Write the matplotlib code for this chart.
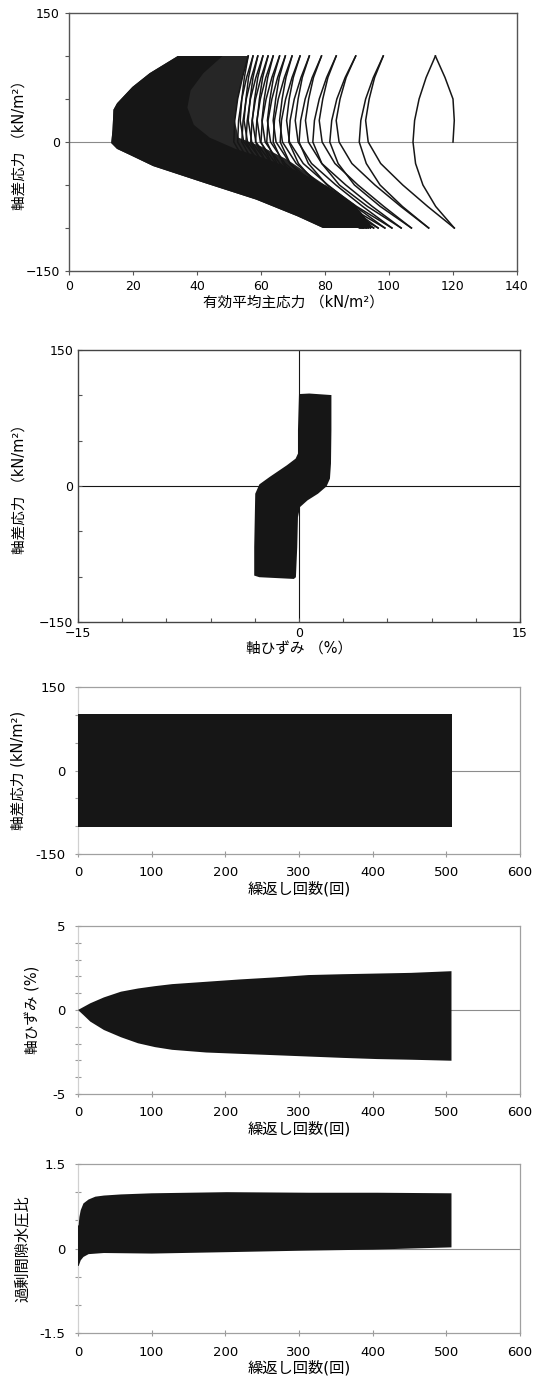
import matplotlib
matplotlib.use("Agg")
import matplotlib.pyplot as plt

plt.rcParams['font.family'] = ['DejaVu Sans', 'Noto Sans CJK JP']

W, H = 539, 1383
INK = "#161616"

# ---- panel 1: effective stress path (p', q) ----
q_levels = [100, 75, 50, 25, 0, -25, -50, -75, -100]
first_load_q = [0, 25, 50, 75, 100]
first_load_p = [120.0, 120.4, 120.0, 117.5, 114.5]

# unloading branches: top -> nose -> bottom, p' at q_levels
unload_p = [
    [114.5, 111.6, 109.4, 108.0, 107.5, 108.3, 110.6, 114.6, 120.4],
    [98.2, 95.1, 92.7, 91.2, 90.7, 92.9, 97.2, 104.2, 112.4],
    [89.6, 86.3, 83.7, 82.1, 81.5, 84.1, 89.2, 97.3, 107.0],
    [83.5, 80.5, 78.2, 76.7, 76.2, 79.0, 84.5, 93.3, 103.8],
    [78.9, 76.0, 73.8, 72.4, 71.9, 74.8, 80.6, 89.9, 100.9],
    [75.1, 72.5, 70.4, 69.1, 68.7, 71.7, 77.7, 87.3, 98.7],
    [72.2, 69.7, 67.7, 66.4, 66.0, 69.1, 75.2, 85.0, 96.6],
    [69.7, 67.3, 65.4, 64.2, 63.8, 66.9, 73.2, 83.3, 95.2],
    [67.6, 65.2, 63.4, 62.2, 61.8, 65.0, 71.5, 81.9, 94.2],
    [65.8, 63.4, 61.6, 60.4, 60.0, 63.4, 70.1, 80.8, 93.5],
    [63.8, 61.5, 59.8, 58.7, 58.3, 61.8, 68.7, 79.8, 93.0],
    [62.2, 60.0, 58.3, 57.2, 56.8, 60.4, 67.5, 78.9, 92.5],
    [60.6, 58.4, 56.7, 55.7, 55.3, 59.0, 66.3, 78.1, 92.0],
    [59.0, 57.0, 55.4, 54.4, 54.0, 57.8, 65.3, 77.3, 91.6],
    [57.5, 55.5, 54.0, 53.0, 52.7, 56.6, 64.2, 76.6, 91.2],
    [56.0, 54.2, 52.7, 51.8, 51.5, 55.4, 63.3, 75.9, 90.8],
]
# reloading branches: bottom -> nose -> next top, p' at q_levels
reload_p = [
    [98.2, 95.5, 93.8, 92.7, 93.5, 97.4, 104.3, 112.1, 120.4],
    [89.6, 86.6, 84.7, 83.5, 84.4, 88.4, 95.6, 103.7, 112.4],
    [83.5, 80.9, 79.3, 78.2, 79.1, 83.1, 90.3, 98.4, 107.0],
    [78.9, 76.4, 74.9, 73.9, 74.8, 79.0, 86.5, 94.8, 103.8],
    [75.1, 72.9, 71.6, 70.7, 71.6, 75.8, 83.4, 91.8, 100.9],
    [72.2, 70.1, 68.8, 68.0, 68.9, 73.2, 80.9, 89.5, 98.7],
    [69.7, 67.8, 66.6, 65.8, 66.7, 71.0, 78.7, 87.4, 96.6],
    [67.6, 65.7, 64.6, 63.8, 64.7, 69.1, 77.0, 85.8, 95.2],
    [65.8, 63.9, 62.8, 62.0, 63.0, 67.5, 75.5, 84.5, 94.2],
    [63.8, 62.1, 61.0, 60.3, 61.3, 65.9, 74.2, 83.5, 93.5],
    [62.2, 60.5, 59.5, 58.8, 59.8, 64.6, 73.2, 82.7, 93.0],
    [60.6, 59.0, 58.0, 57.3, 58.4, 63.3, 72.1, 81.9, 92.5],
    [59.0, 57.5, 56.6, 56.0, 57.1, 62.1, 71.1, 81.2, 92.0],
    [57.5, 56.1, 55.3, 54.7, 55.8, 61.0, 70.2, 80.5, 91.6],
    [56.0, 54.8, 54.0, 53.5, 54.6, 59.9, 69.3, 79.9, 91.2],
]
# outer edge of the dense mass of later cycles (bottom -> top)
mass_edge_p = [79.4, 71.4, 58.5, 42.4, 26.3, 19.0, 15.0, 13.2, 13.6, 13.9, 15.0, 19.8, 25.2, 34.0]
mass_edge_q = [-100, -86.4, -67, -47.7, -28, -15, -8, -1.2, 14.3, 37.6, 45, 64, 80, 100]
# right edge of the densely hatched zone (top -> bottom)
hatch_edge_p = [56.0, 54.2, 52.7, 51.8, 53.0, 60.0, 68.0, 76.0, 84.0, 91.0, 95.0]
hatch_edge_q = [100, 75, 50, 25, 5, -5, -20, -40, -60, -80, -100]
# inner edge of the fully black part (top -> bottom)
solid_edge_p = [48, 42, 38, 37, 39, 44, 52, 62, 72, 81, 89, 95]
solid_edge_q = [100, 80, 60, 40, 20, 5, -8, -20, -35, -52, -72, -100]

# ---- panel 2: stress-strain outline ----
ss_strain = [0, 0.7, 2.2, 2.2, 2.17, 2.1, 1.87, 1.29, 0.58, 0.07, -0.07, -0.12, -0.21,
             -0.35, -2.69, -3.04, -3.04, -2.97, -2.69, -1.99, -0.82, -0.23, -0.07, -0.07]
ss_stress = [101.4, 102, 100.3, 61.6, 24.7, 8.1, -0.4, -8.5, -15.8, -23.2, -34.3, -67.5, -100.6,
             -102.5, -100.6, -98.8, -67.5, -8.5, 1.8, 10, 22.9, 30.2, 35.8, 61.6]

# ---- panel 3: deviator stress envelope vs cycles ----
n_stress = [0, 508]
stress_top = [101, 101]
stress_bot = [-102, -102]

# ---- panel 4: axial strain envelope vs cycles ----
n_strain_up = [0, 16.7, 35.2, 58.3, 81.5, 104.6, 127.8, 174, 220, 267, 313, 359, 405.6, 452, 507]
strain_up = [0, 0.40, 0.75, 1.09, 1.28, 1.42, 1.54, 1.68, 1.82, 1.94, 2.08, 2.13, 2.17, 2.21, 2.31]
n_strain_lo = [0, 7.4, 16.7, 35.2, 58.3, 81.5, 104.6, 127.8, 174, 220, 267, 313, 359, 405.6, 452, 507]
strain_lo = [0, -0.30, -0.69, -1.19, -1.62, -1.98, -2.21, -2.37, -2.53, -2.61, -2.69, -2.77,
             -2.85, -2.92, -2.96, -3.02]

# ---- panel 5: excess pore pressure ratio envelope vs cycles ----
n_pore_up = [0, 0.9, 1.9, 3.7, 7.4, 14.4, 23.6, 35.2, 58.3, 100, 202, 313, 405.6, 507]
pore_up = [0.41, 0.41, 0.56, 0.68, 0.80, 0.87, 0.92, 0.94, 0.96, 0.98, 1.0, 0.99, 0.99, 0.98]
n_pore_lo = [0, 0.9, 3.7, 7.4, 14.4, 35.2, 100, 202, 300, 400, 507]
pore_lo = [-0.31, -0.31, -0.21, -0.15, -0.10, -0.08, -0.09, -0.065, -0.04, -0.02, 0.02]

fig = plt.figure(figsize=(W / 100, H / 100), dpi=100)


def px_axes(left, top, right, bottom):
    return fig.add_axes([left / W, 1 - bottom / H, (right - left) / W, (bottom - top) / H])


def frame(ax, color, lw=1.0):
    for s in ax.spines.values():
        s.set_color(color)
        s.set_linewidth(lw)


# Panel 1
ax1 = px_axes(69, 13, 517, 271)
ax1.set_xlim(0, 140)
ax1.set_ylim(-150, 150)
ax1.axhline(0, color="#8a8a8a", lw=0.8, zorder=1)
ax1.fill(hatch_edge_p + mass_edge_p, hatch_edge_q + mass_edge_q, color="#262626", lw=0, zorder=2)
ax1.fill(solid_edge_p + mass_edge_p, solid_edge_q + mass_edge_q, color=INK, lw=0, zorder=3)
ax1.plot(first_load_p, first_load_q, color=INK, lw=1.1, zorder=4)
for row in unload_p:
    ax1.plot(row, q_levels, color=INK, lw=1.1, zorder=4)
for row in reload_p:
    ax1.plot(row, q_levels, color=INK, lw=1.1, zorder=4)
ax1.set_xticks(range(0, 141, 20))
ax1.set_yticks(range(-150, 151, 50))
ax1.set_yticklabels(["\u2212150", "", "", "0", "", "", "150"])
ax1.tick_params(direction="out", length=3, color="#555555", labelsize=9)
frame(ax1, "#555555")
ax1.set_ylabel("軸差応力 （kN/m²）", fontsize=10.5)
ax1.yaxis.set_label_coords((27 - 69) / 448, 0.5)
ax1.set_xlabel("有効平均主応力 （kN/m²）", fontsize=10.5, labelpad=1)

# Panel 2
ax2 = px_axes(78, 350, 520, 622)
ax2.set_xlim(-15, 15)
ax2.set_ylim(-150, 150)
ax2.axhline(0, color=INK, lw=0.8, zorder=1)
ax2.axvline(0, color=INK, lw=0.8, zorder=1)
ax2.fill(ss_strain, ss_stress, color=INK, lw=0, zorder=3)
ax2.set_xticks(range(-15, 16, 3))
ax2.set_xticklabels(["\u221215", "", "", "", "", "0", "", "", "", "", "15"])
ax2.set_yticks(range(-150, 151, 50))
ax2.set_yticklabels(["\u2212150", "", "", "0", "", "", "150"])
ax2.tick_params(direction="in", length=3, color="#555555", labelsize=9)
frame(ax2, "#444444")
ax2.set_ylabel("軸差応力 （kN/m²）", fontsize=10.5)
ax2.yaxis.set_label_coords((27 - 78) / 442, 0.5)
ax2.set_xlabel("軸ひずみ （%）", fontsize=10.5, labelpad=1)


def cycle_axes(top, bottom, ylim, yticks, ylabels, ylabel, ylab_x, ylab_size):
    ax = px_axes(78, top, 520, bottom)
    ax.set_xlim(0, 600)
    ax.set_ylim(*ylim)
    ax.axhline(0, color="#8c8c8c", lw=0.8, zorder=1)
    ax.set_xticks(range(0, 601, 100))
    ax.set_xticklabels([str(v) for v in range(0, 601, 100)])
    ax.set_yticks(yticks)
    ax.set_yticklabels(ylabels)
    ax.tick_params(direction="inout", length=4, color="#9a9a9a", labelsize=9.5, pad=7)
    frame(ax, "#a0a0a0", 0.9)
    ax.spines["left"].set_color("#d0d0d0")
    ax.set_ylabel(ylabel, fontsize=ylab_size)
    ax.yaxis.set_label_coords((ylab_x - 78) / 442, 0.5)
    ax.set_xlabel("繰返し回数(回)", fontsize=11, labelpad=1)
    return ax


# Panel 3
ax3 = cycle_axes(687, 854, (-150, 150), range(-150, 151, 50),
                 ["-150", "", "", "0", "", "", "150"], "軸差応力 (kN/m²)", 26, 10.5)
ax3.fill_between(n_stress, stress_bot, stress_top, color=INK, lw=0, zorder=3)

# Panel 4
ax4 = cycle_axes(926, 1094, (-5, 5), range(-5, 6),
                 ["-5", "", "", "", "", "0", "", "", "", "", "5"], "軸ひずみ (%)", 40, 10.5)
ax4.fill(n_strain_up + n_strain_lo[::-1], strain_up + strain_lo[::-1], color=INK, lw=0, zorder=3)

# Panel 5
ax5 = cycle_axes(1164, 1333, (-1.5, 1.5), [-1.5, -1.0, -0.5, 0, 0.5, 1.0, 1.5],
                 ["-1.5", "", "", "0", "", "", "1.5"], "過剰間隙水圧比", 30, 11)
ax5.fill(n_pore_up + n_pore_lo[::-1], pore_up + pore_lo[::-1], color=INK, lw=0, zorder=3)

fig.savefig("out.png", dpi=100)
